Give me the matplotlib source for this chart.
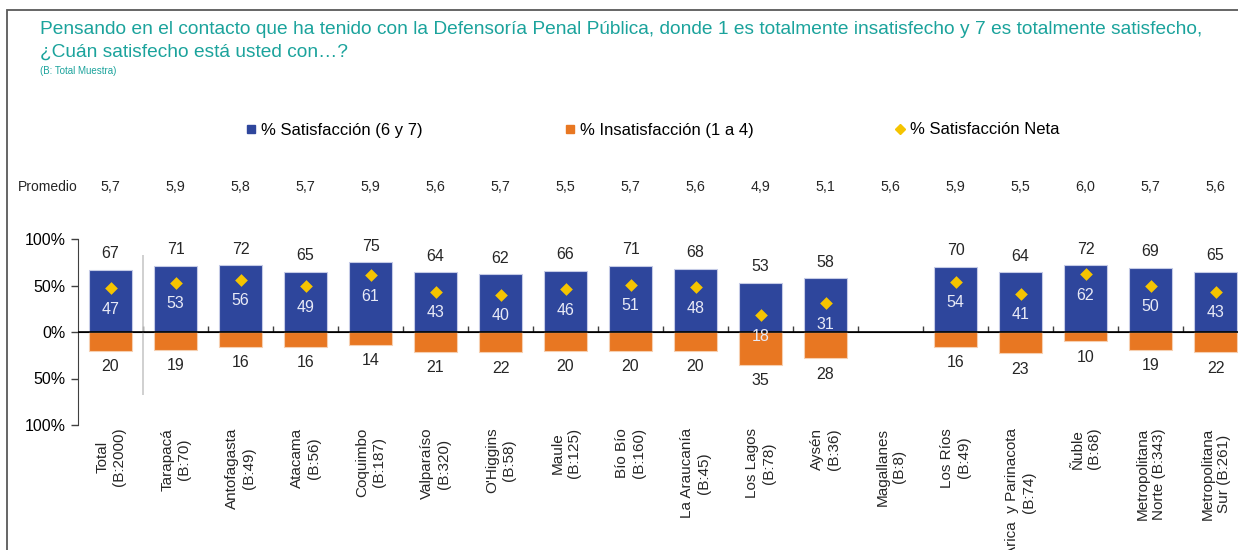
import numpy as np
import matplotlib
matplotlib.use("Agg")
import matplotlib.pyplot as plt
from matplotlib.lines import Line2D
from matplotlib.patches import Rectangle
from matplotlib.transforms import blended_transform_factory

plt.rcParams['font.family'] = ['Liberation Sans', 'DejaVu Sans']

regiones = ["Total\n(B:2000)", "Tarapacá\n(B:70)", "Antofagasta\n(B:49)", "Atacama\n(B:56)",
            "Coquimbo\n(B:187)", "Valparaíso\n(B:320)", "O'Higgins\n(B:58)", "Maule\n(B:125)",
            "Bío Bío\n(B:160)", "La Araucanía\n(B:45)", "Los Lagos\n(B:78)", "Aysén\n(B:36)",
            "Magallanes\n(B:8)", "Los Ríos\n(B:49)", "Arica  y Parinacota\n(B:74)", "Ñuble\n(B:68)",
            "Metropolitana\nNorte (B:343)", "Metropolitana\nSur (B:261)"]
satisfaccion = [67, 71, 72, 65, 75, 64, 62, 66, 71, 68, 53, 58, np.nan, 70, 64, 72, 69, 65]
insatisfaccion = [20, 19, 16, 16, 14, 21, 22, 20, 20, 20, 35, 28, np.nan, 16, 23, 10, 19, 22]
neta = [47, 53, 56, 49, 61, 43, 40, 46, 51, 48, 18, 31, np.nan, 54, 41, 62, 50, 43]
promedio = ["5,7", "5,9", "5,8", "5,7", "5,9", "5,6", "5,7", "5,5", "5,7", "5,6",
            "4,9", "5,1", "5,6", "5,9", "5,5", "6,0", "5,7", "5,6"]

AZUL = "#2E469C"
NARANJA = "#E87722"
AMARILLO = "#F5C400"
TEAL = "#1BA39C"

W, H = 1238, 550
fig = plt.figure(figsize=(W / 100, H / 100), dpi=100)

# axes: y axis at x=78px, 0..100% from y=425 to 239, 65px per category
ax = fig.add_axes([78 / W, 1 - 425 / H, 65 * 18 / W, 186 / H])
x = np.arange(len(regiones))

ax.bar(x, satisfaccion, width=0.67, color=AZUL, edgecolor="#c5cbe6", linewidth=0.8, zorder=2)
ax.bar(x, -np.array(insatisfaccion), width=0.67, color=NARANJA, edgecolor="#f6cfb0",
       linewidth=0.8, zorder=2)
ax.scatter(x, neta, marker="D", s=42, color=AMARILLO, zorder=4, linewidths=0)

for i in x:
    if np.isnan(satisfaccion[i]):
        continue
    ax.annotate(f"{satisfaccion[i]:.0f}", (i, satisfaccion[i]), xytext=(0, 11.5),
                textcoords="offset points", ha="center", va="center", fontsize=11.5, color="#262626")
    ax.annotate(f"{insatisfaccion[i]:.0f}", (i, -insatisfaccion[i]), xytext=(0, -11.5),
                textcoords="offset points", ha="center", va="center", fontsize=11.5, color="#262626")
    ax.annotate(f"{neta[i]:.0f}", (i, neta[i]), xytext=(0, -15),
                textcoords="offset points", ha="center", va="center", fontsize=11.5,
                color="#e8eaf6", zorder=5)

ax.axhline(0, color="black", lw=1.2, zorder=3)
ax.vlines(0.5, -68, 83, color="#c8c8c8", lw=1.2)

ax.set_xlim(-0.5, 17.5)
ax.set_ylim(-100, 100)
ax.set_yticks([-100, -50, 0, 50, 100])
ax.set_yticklabels(["100%", "50%", "0%", "50%", "100%"], fontsize=11.5)
ax.set_xticks(x)
ax.set_xticklabels(regiones, rotation=90, ha="center", va="top", fontsize=11, color="#262626")
ax.tick_params(axis="x", length=0, pad=2)
ax.tick_params(axis="y", direction="out", length=5, width=1, color="#404040", pad=4)
for s in ["top", "right", "bottom"]:
    ax.spines[s].set_visible(False)
ax.spines["left"].set_color("#404040")

# small ticks between categories on the zero line
sec = ax.secondary_xaxis(0.5)
sec.set_xticks(x[:-1] + 0.5)
sec.set_xticklabels([])
sec.tick_params(direction="out", length=4, width=1, color="#404040")
sec.spines["bottom"].set_visible(False)

# promedio row
tr = blended_transform_factory(ax.transData, fig.transFigure)
fig.text(18 / W, 1 - 187 / H, "Promedio", ha="left", va="center", fontsize=10, color="#262626")
for i in x:
    ax.text(i, 1 - 187 / H, promedio[i], transform=tr, ha="center", va="center",
            fontsize=10.3, color="#262626", clip_on=False)

# legend
handles = [Line2D([], [], marker="s", ls="none", color=AZUL, markersize=6),
           Line2D([], [], marker="s", ls="none", color=NARANJA, markersize=6),
           Line2D([], [], marker="D", ls="none", color=AMARILLO, markersize=5)]
fig.legend(handles, ["% Satisfacción (6 y 7)", "% Insatisfacción (1 a 4)", "% Satisfacción Neta"],
           loc="center", bbox_to_anchor=(653 / W, 1 - 130 / H), ncol=3, frameon=False,
           fontsize=12, handlelength=0.6, handletextpad=0.3, columnspacing=8.5)

# title
fig.text(40 / W, 1 - 30 / H, "Pensando en el contacto que ha tenido con la Defensoría Penal Pública, "
         "donde 1 es totalmente insatisfecho y 7 es totalmente satisfecho,",
         ha="left", va="center", fontsize=13.8, color=TEAL)
fig.text(40 / W, 1 - 52 / H, "¿Cuán satisfecho está usted con…?", ha="left", va="center",
         fontsize=13.8, color=TEAL)
fig.text(40 / W, 1 - 71 / H, "(B: Total Muestra)", ha="left", va="center", fontsize=7, color=TEAL)

# outer frame
fig.add_artist(Rectangle((7 / W, -0.1), 1.2, 1 - 10 / H + 0.1, fill=False,
                         edgecolor="#595959", lw=1.3, transform=fig.transFigure, clip_on=False))

fig.savefig("out.png", dpi=100)
